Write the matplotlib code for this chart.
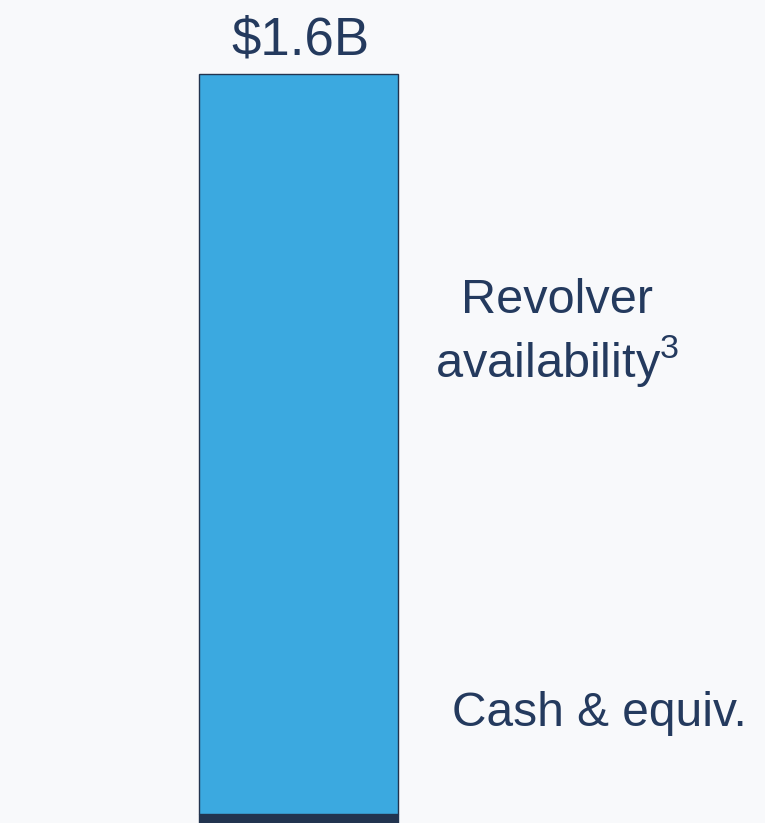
import matplotlib.pyplot as plt

plt.rcParams["font.family"] = ["Liberation Sans", "DejaVu Sans"]
plt.rcParams["mathtext.fontset"] = "custom"
plt.rcParams["mathtext.rm"] = "Liberation Sans"

# liquidity, $B
segments = ["Cash & equiv.", "Revolver availability"]
values = [0.02, 1.58]
total_label = "$1.6B"

navy = "#22344f"
blue = "#3ba9e0"
text_col = "#243a5e"
bg = "#f8f9fb"

fig = plt.figure(figsize=(7.65, 8.23), dpi=100, facecolor=bg)
ax = fig.add_axes([0, 0, 1, 1], facecolor=bg)

total = sum(values)
ax.bar(0, values[0], width=1, color=navy, edgecolor=navy, linewidth=1)
ax.bar(0, values[1], bottom=values[0], width=1, color=blue, edgecolor=navy, linewidth=1)

# bar spans 199..398 px horizontally, top at 74 px
ax.set_xlim(-1.5, 2.344)
ax.set_ylim(0, total * 823 / 749)
ax.axis("off")

ax.text(300 / 765, 1 - 40 / 823, total_label.replace("$", r"\$"), transform=ax.transAxes,
        ha="center", va="center", fontsize=38, color=text_col)

ax.text(557 / 765, 1 - 334 / 823, "Revolver\navailability$^{3}$", transform=ax.transAxes,
        ha="center", va="center", fontsize=35, color=text_col, linespacing=1.25)
ax.text(599 / 765, 1 - 713 / 823, "Cash & equiv.", transform=ax.transAxes,
        ha="center", va="center", fontsize=34.5, color=text_col)

fig.savefig("out.png", dpi=100, facecolor=bg)
